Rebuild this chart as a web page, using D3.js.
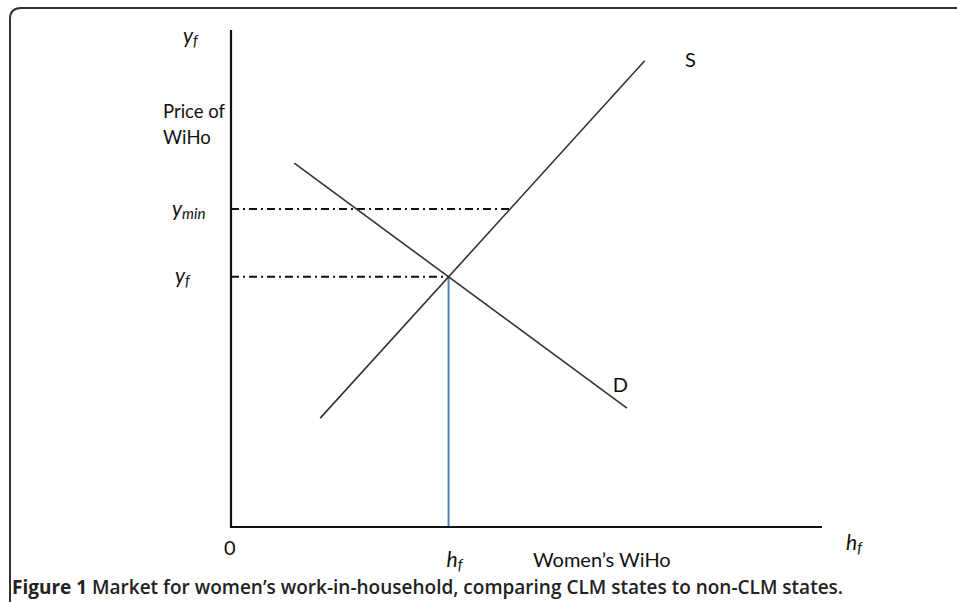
<!DOCTYPE html>
<html>
<head>
<meta charset="utf-8">
<script src="https://cdn.jsdelivr.net/npm/d3@7"></script>
<style>
  body { margin: 0; background: #fff; }
  svg { display: block; }
</style>
</head>
<body>
<div id="chart"></div>
<script>
// curve end points in chart units (0..100 on both axes)
const supply = [{x: 15.1, y: 21.9}, {x: 70.0, y: 93.8}];
const demand = [{x: 10.7, y: 73.2}, {x: 67.0, y: 23.9}];
const yMinValue = 64.0;
const curveLabels = [
  {text: 'S', x: 76.8, y: 92.6},
  {text: 'D', x: 64.6, y: 27.2}
];

const width = 957, height = 602;
const svg = d3.select('#chart').append('svg')
  .attr('width', width)
  .attr('height', height);

// panel frame with rounded top-left corner
svg.append('path')
  .attr('d', 'M10,604 L10,19 Q10,8 21,8 L958,8')
  .attr('fill', 'none')
  .attr('stroke', '#333')
  .attr('stroke-width', 2);

const x = d3.scaleLinear().domain([0, 100]).range([231, 822]);
const y = d3.scaleLinear().domain([0, 100]).range([527, 30]);

// intersection of S and D
const sSlope = (supply[1].y - supply[0].y) / (supply[1].x - supply[0].x);
const dSlope = (demand[1].y - demand[0].y) / (demand[1].x - demand[0].x);
const eqX = (demand[0].y - supply[0].y + sSlope * supply[0].x - dSlope * demand[0].x) / (sSlope - dSlope);
const eqY = supply[0].y + sSlope * (eqX - supply[0].x);
// where y_min meets S
const yMinX = supply[0].x + (yMinValue - supply[0].y) / sSlope;

const line = d3.line().x(d => x(d.x)).y(d => y(d.y));

// dash-dot guides
const guides = [
  [{x: 0, y: yMinValue}, {x: yMinX, y: yMinValue}],
  [{x: 0, y: eqY}, {x: eqX, y: eqY}]
];
svg.selectAll('.guide').data(guides).enter().append('path')
  .attr('class', 'guide')
  .attr('d', line)
  .attr('stroke', '#111')
  .attr('stroke-width', 2)
  .attr('stroke-dasharray', '8,4,2,4')
  .attr('fill', 'none');

// blue drop line
svg.append('path')
  .attr('d', line([{x: eqX, y: eqY}, {x: eqX, y: 0}]))
  .attr('stroke', '#4f81bd')
  .attr('stroke-width', 2)
  .attr('fill', 'none');

// S and D curves
svg.selectAll('.curve').data([supply, demand]).enter().append('path')
  .attr('class', 'curve')
  .attr('d', line)
  .attr('stroke', '#333')
  .attr('stroke-width', 1.6)
  .attr('fill', 'none');

// axes
svg.append('path')
  .attr('d', line([{x: 0, y: 100}, {x: 0, y: 0}, {x: 100, y: 0}]))
  .attr('stroke', '#111')
  .attr('stroke-width', 2.2)
  .attr('fill', 'none');

const font = 'Lato, "Open Sans", sans-serif';

svg.selectAll('.clabel').data(curveLabels).enter().append('text')
  .attr('x', d => x(d.x))
  .attr('y', d => y(d.y))
  .attr('font-family', font)
  .attr('font-size', 20)
  .attr('fill', '#111')
  .text(d => d.text);

function italicLabel(px, py, main, sub, size) {
  const t = svg.append('text')
    .attr('x', px).attr('y', py)
    .attr('font-family', font)
    .attr('font-style', 'italic')
    .attr('font-size', size)
    .attr('fill', '#111');
  t.append('tspan').text(main);
  t.append('tspan').attr('font-size', size * 0.72).attr('dy', 3).text(sub);
  return t;
}

italicLabel(183, 43, 'y', 'f', 21);
italicLabel(172, 216, 'y', 'min', 21);
italicLabel(175, 283, 'y', 'f', 21);
italicLabel(x(eqX) - 2, 567, 'h', 'f', 21);
italicLabel(846, 550, 'h', 'f', 21);

svg.append('text')
  .attr('x', 163).attr('y', 118)
  .attr('font-family', font).attr('font-size', 18.5).attr('fill', '#111')
  .text('Price of');
svg.append('text')
  .attr('x', 163).attr('y', 144)
  .attr('font-family', font).attr('font-size', 18.5).attr('fill', '#111')
  .text('WiHo');

svg.append('text')
  .attr('x', x(0) - 7).attr('y', 555)
  .attr('font-family', font).attr('font-size', 20).attr('fill', '#111')
  .text('0');

svg.append('text')
  .attr('x', 533).attr('y', 567)
  .attr('font-family', font).attr('font-size', 20).attr('fill', '#111')
  .text('Women\u2019s WiHo');

// caption
const cap = svg.append('text')
  .attr('x', 12).attr('y', 594)
  .attr('font-family', '"Open Sans", sans-serif')
  .attr('font-size', 19)
  .attr('fill', '#222');
cap.append('tspan').attr('font-weight', 700).text('Figure 1 ');
cap.append('tspan').attr('font-weight', 600)
  .text('Market for women\u2019s work-in-household, comparing CLM states to non-CLM states.');
</script>
</body>
</html>
